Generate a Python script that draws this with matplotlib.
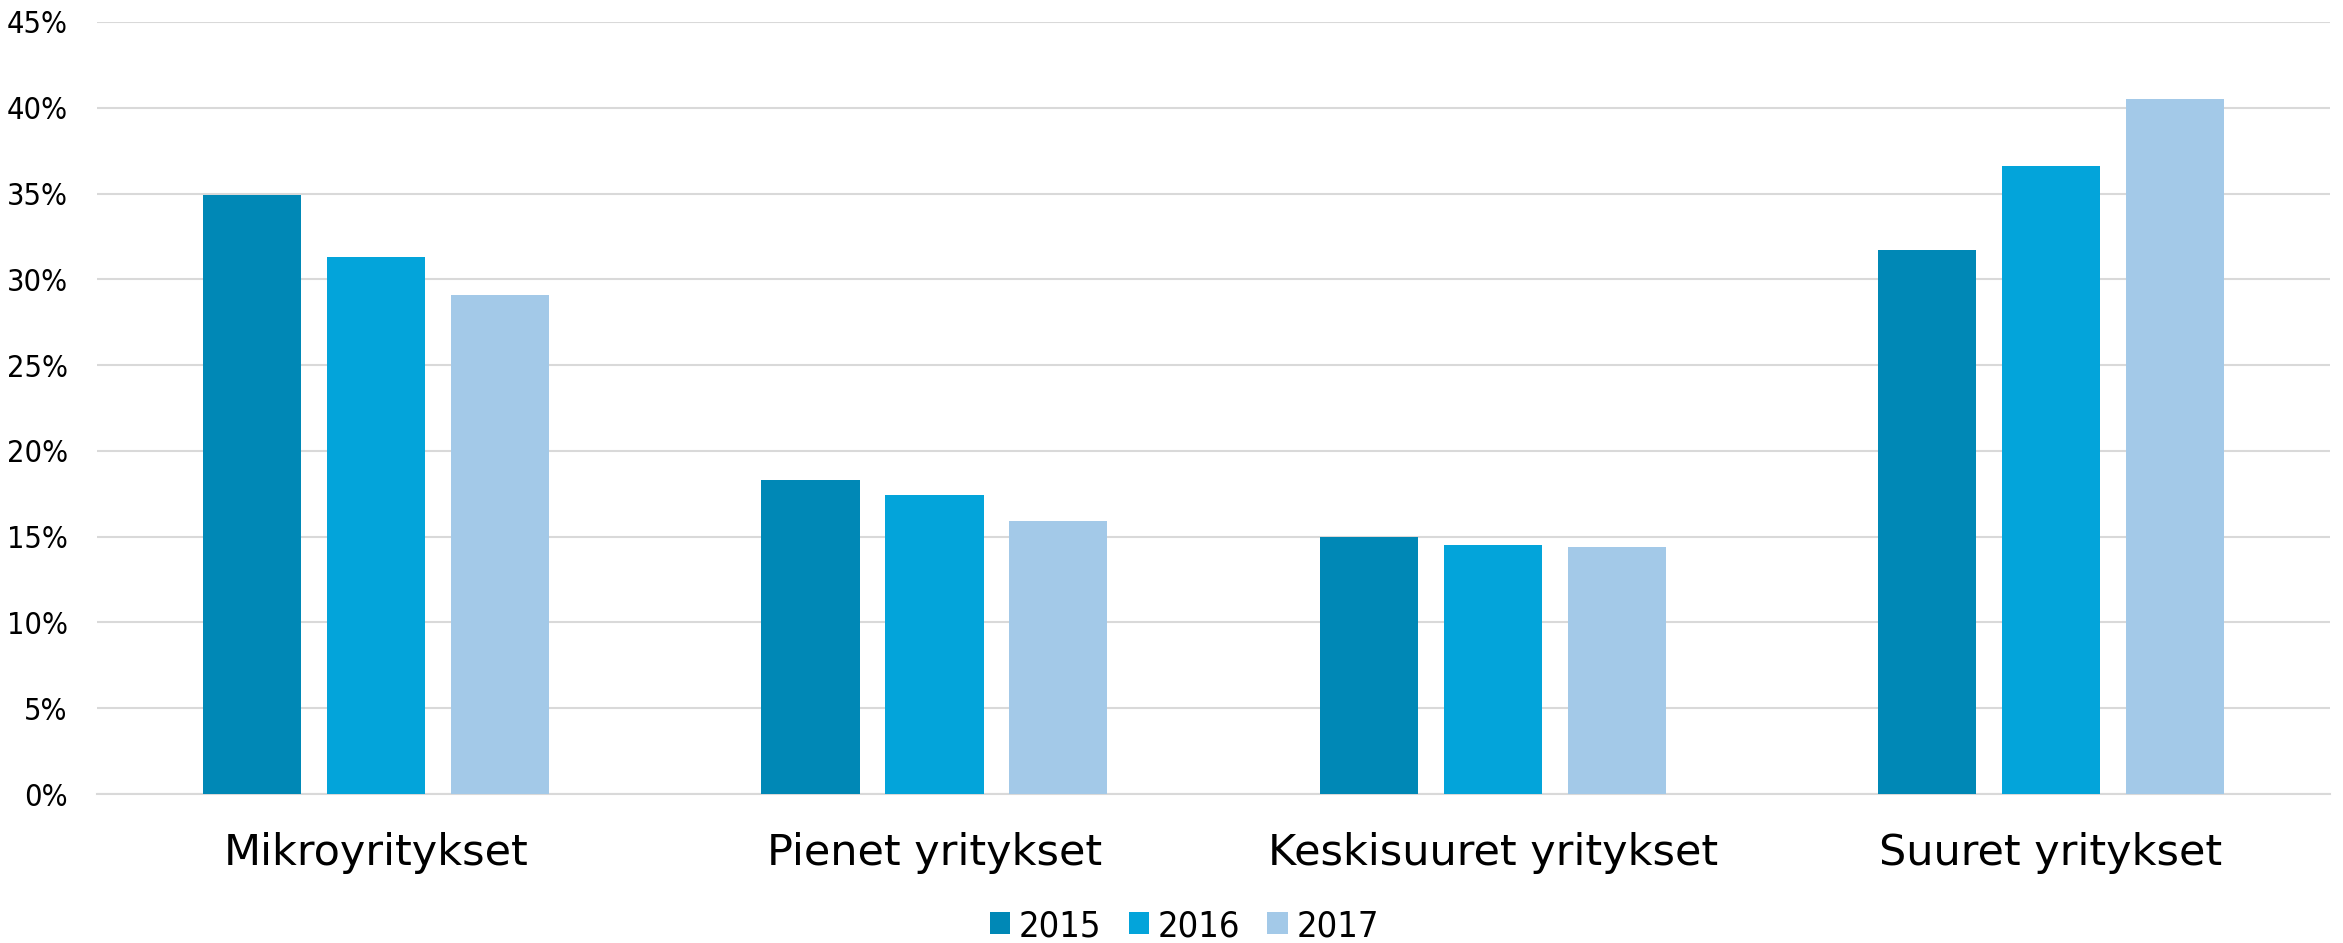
import matplotlib
matplotlib.use("Agg")
import matplotlib.pyplot as plt
from matplotlib import font_manager
import numpy as np

# data (share of companies, %)
kategoriat = ["Mikroyritykset", "Pienet yritykset", "Keskisuuret yritykset", "Suuret yritykset"]
vuodet = ["2015", "2016", "2017"]
arvot_2015 = [34.9, 18.3, 15.0, 31.7]
arvot_2016 = [31.3, 17.4, 14.5, 36.6]
arvot_2017 = [29.1, 15.9, 14.4, 40.5]
y_tikit = [0, 5, 10, 15, 20, 25, 30, 35, 40, 45]

sarjat = [arvot_2015, arvot_2016, arvot_2017]
varit = ["#0088b6", "#03a4da", "#a3c9e8"]

# narrow upright font for ticks and legend, if one is around
nimet = {f.name for f in font_manager.fontManager.ttflist}
kapeat = [f for f in font_manager.fontManager.ttflist
          if f.name == "DejaVu Sans" and f.stretch == "condensed"
          and f.style == "normal" and f.weight in (400, "normal")]
if "Liberation Sans Narrow" in nimet:
    kapea = font_manager.FontProperties(family="Liberation Sans Narrow")
elif kapeat:
    kapea = font_manager.FontProperties(fname=kapeat[0].fname)
else:
    kapea = font_manager.FontProperties(family="DejaVu Sans")

fig = plt.figure(figsize=(23.43, 9.43), dpi=100)
ax = fig.add_axes([0.0414, 0.158, 0.9531, 0.8187])

x = np.arange(len(kategoriat))
leveys = 0.176
askel = 0.222
for i, (sarja, vari) in enumerate(zip(sarjat, varit)):
    ax.bar(x + (i - 1) * askel, sarja, width=leveys, color=vari, label=vuodet[i], zorder=3)

ax.set_xlim(-0.5, len(kategoriat) - 0.5)
ax.set_ylim(0, 45)
ax.set_yticks(y_tikit)
ax.set_yticklabels([f"{t}%" for t in y_tikit], fontproperties=kapea, fontsize=22)
ax.set_xticks(x)
ax.set_xticklabels(kategoriat, family="DejaVu Sans", fontsize=31)

ax.grid(axis="y", color="#d9d9d9", linewidth=1.5, zorder=0)
for s in ["top", "right", "left"]:
    ax.spines[s].set_visible(False)
ax.spines["bottom"].set_color("#d9d9d9")
ax.spines["bottom"].set_linewidth(1.5)
ax.tick_params(axis="y", length=0, pad=21)
ax.tick_params(axis="x", length=0, pad=27)

leg_font = kapea.copy()
leg_font.set_size(26)
fig.legend(loc="center", bbox_to_anchor=(0.5055, 0.018), ncol=3, frameon=False,
           prop=leg_font, handlelength=0.56, handleheight=0.56,
           handletextpad=0.25, columnspacing=0.75)

fig.savefig("out.png", dpi=100)
